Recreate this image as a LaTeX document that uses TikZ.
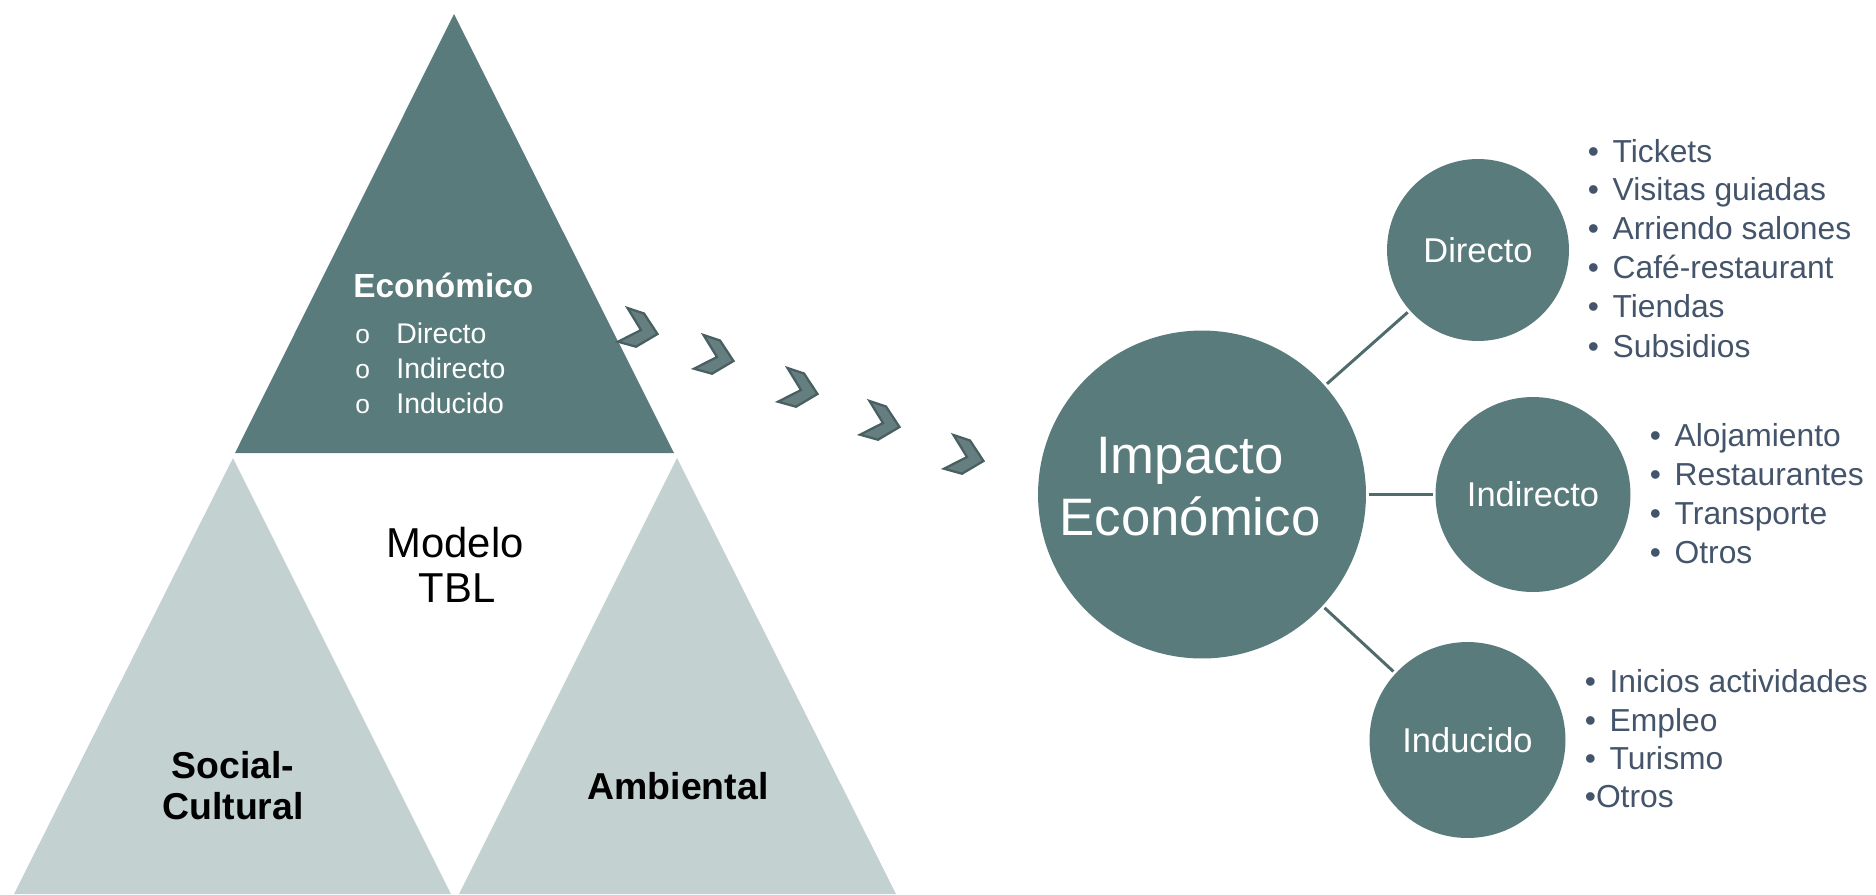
\documentclass[tikz,border=0pt]{standalone}
\usepackage{fontspec}
\setmainfont{Liberation Sans}
\definecolor{tealmain}{HTML}{5A7B7B}
\definecolor{lightg}{HTML}{C3D1D0}
\definecolor{chevf}{HTML}{657F81}
\definecolor{chevd}{HTML}{4A5F61}
\definecolor{listc}{HTML}{44546A}
\definecolor{linec}{HTML}{4F6B6C}
\begin{document}
\begin{tikzpicture}[x=0.02cm,y=-0.02cm,
  darktri/.style={fill=tealmain},
  lighttri/.style={fill=lightg},
  bubble/.style={circle,fill=tealmain,draw=none,inner sep=0pt,text=white,font=\fontsize{19.6pt}{23pt}\selectfont},
  conn/.style={draw=linec,line width=1.7pt,shorten <=1.5pt,shorten >=1.5pt},
  chev/.style={fill=chevf,draw=chevd,line width=1.3pt,line join=miter},
  econitem/.style={anchor=base west,inner sep=0pt,text=white,font=\fontsize{16.2pt}{19pt}\selectfont},
  econhead/.style={anchor=base west,inner sep=0pt,text=white,font=\bfseries\fontsize{19pt}{22pt}\selectfont},
  modeltxt/.style={anchor=base,inner sep=0pt,text=black,font=\fontsize{23.8pt}{26pt}\selectfont},
  pillartxt/.style={anchor=base,inner sep=0pt,text=black,font=\bfseries\fontsize{21.3pt}{24pt}\selectfont},
  bigtxt/.style={anchor=base,inner sep=0pt,text=white,font=\fontsize{30pt}{35pt}\selectfont},
  li/.style={anchor=base west,inner sep=0pt,text=listc,font=\fontsize{18.1pt}{22pt}\selectfont}]
\useasboundingbox (0,0) rectangle (1876,894);

% triangles
\path[darktri] (454,14) -- (674,453) -- (235,453) -- cycle;
\path[lighttri] (233,458) -- (451,894) -- (14,894) -- cycle;
\path[lighttri] (677,458) -- (896,894) -- (459,894) -- cycle;

% texts on the triangles
\node[econhead] (econ) at (353,297) {Económico};
\foreach \t/\yy [count=\i] in {Directo/343,Indirecto/378,Inducido/413}
  \node[econitem] (econ\i) at (355,\yy) {\makebox[1.44em][l]{\fontsize{15pt}{17pt}\selectfont o}\t};
\node[modeltxt] (mod1) at (455,557) {Modelo};
\node[modeltxt] (mod2) at (457,602) {TBL};
\node[pillartxt] (soc1) at (233,778) {Social-};
\node[pillartxt] (soc2) at (233,819) {Cultural};
\node[pillartxt] (amb) at (678,799) {Ambiental};

% chevrons
\foreach \cx/\cy in {639/328,715/355,799/388,881/421,965/455}
  \draw[chev,shift={(\cx,\cy)}] (-11.5,-20) -- (5,-14.5) -- (18.5,6) -- (-3,18.7) -- (-21,13.7) -- (2,2) -- cycle;

% circles
\node[bubble,minimum size=6.56cm] (imp) at (1202,494.5) {};
\node[bubble,minimum size=3.64cm] (dir) at (1478,250) {Directo};
\node[bubble,minimum size=3.9cm] (ind) at (1533,494.5) {Indirecto};
\node[bubble,minimum size=3.92cm] (indu) at (1467.5,740) {Inducido};
\node[bigtxt] (imp1) at (1190,473) {Impacto};
\node[bigtxt] (imp2) at (1190,535) {Económico};

% connectors
\draw[conn] (imp) -- (dir);
\draw[conn] (imp) -- (ind);
\draw[conn] (imp) -- (indu);

% lists
\foreach \t/\yy [count=\i] in {Tickets/162,Visitas guiadas/200,Arriendo salones/239,Café-restaurant/278,Tiendas/317,Subsidios/357}
  \node[li] (dl\i) at (1587.5,\yy) {\makebox[0.78em][l]{•}\t};
\foreach \t/\yy [count=\i] in {Alojamiento/446,Restaurantes/485,Transporte/524,Otros/563}
  \node[li] (il\i) at (1649.5,\yy) {\makebox[0.78em][l]{•}\t};
\foreach \t/\yy [count=\i] in {Inicios actividades/692,Empleo/731,Turismo/769}
  \node[li] (ul\i) at (1584.5,\yy) {\makebox[0.78em][l]{•}\t};
\node[li] (ul4) at (1584.5,807) {•Otros};
\end{tikzpicture}
\end{document}
